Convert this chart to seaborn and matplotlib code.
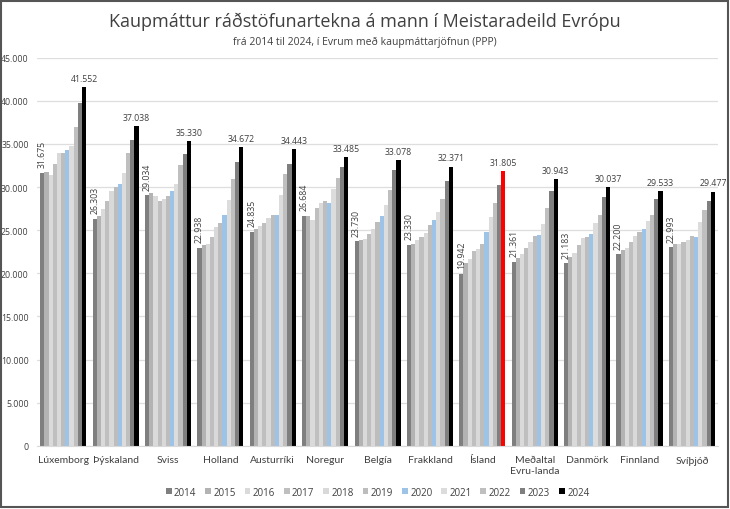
import pandas as pd
import seaborn as sns
import matplotlib.pyplot as plt
from matplotlib.patches import Rectangle
from matplotlib.ticker import FuncFormatter, MultipleLocator

countries = ["Lúxemborg", "Þýskaland", "Sviss", "Holland", "Austurríki", "Noregur",
             "Belgía", "Frakkland", "Ísland", "Meðaltal\nEvru-landa", "Danmörk",
             "Finnland", "Svíþjóð"]
years = ["2014", "2015", "2016", "2017", "2018", "2019", "2020", "2021", "2022", "2023", "2024"]

# one list per country, 2014..2024
luxemborg = [31675, 31780, 31430, 32710, 33950, 33900, 34340, 34800, 36980, 39730, 41552]
thyskaland = [26303, 26670, 27480, 28370, 29500, 30040, 30390, 31670, 33990, 35430, 37038]
sviss = [29034, 29260, 28990, 28370, 28600, 28990, 29530, 30390, 32560, 33880, 35330]
holland = [22938, 23290, 23410, 24150, 25310, 25810, 26700, 28450, 30890, 32900, 34672]
austurriki = [24835, 25080, 25500, 25810, 26360, 26700, 26700, 29070, 31510, 32640, 34443]
noregur = [26684, 26630, 26120, 27600, 28200, 28410, 28200, 29800, 31050, 32290, 33485]
belgia = [23730, 23910, 24030, 24500, 25150, 26000, 26590, 27870, 29690, 31940, 33078]
frakkland = [23330, 23450, 23800, 24260, 24690, 25620, 26120, 27050, 28570, 30660, 32371]
island = [19942, 21160, 21620, 22630, 22830, 23450, 24810, 26470, 28140, 30270, 31805]
medaltal = [21361, 21780, 22290, 22950, 23640, 24300, 24400, 25740, 27600, 29500, 30943]
danmork = [21183, 21860, 22330, 23260, 24070, 24260, 24530, 25810, 26740, 28840, 30037]
finnland = [22200, 22710, 22980, 23600, 24300, 24770, 25160, 26050, 26780, 28600, 29533]
svithjod = [22993, 23370, 23370, 23640, 23910, 24340, 24220, 25890, 27360, 28370, 29477]

series = [luxemborg, thyskaland, sviss, holland, austurriki, noregur, belgia,
          frakkland, island, medaltal, danmork, finnland, svithjod]

rows = []
for c, vals in zip(countries, series):
    for y, v in zip(years, vals):
        rows.append({"land": c, "ar": y, "gildi": v})
df = pd.DataFrame(rows)

palette = {"2014": "#7f7f7f", "2015": "#b3b3b3", "2016": "#dadada", "2017": "#bfbfbf",
           "2018": "#d9d9d9", "2019": "#bdbdbd", "2020": "#9dc3e6", "2021": "#dcdcdc",
           "2022": "#bfbfbf", "2023": "#7f7f7f", "2024": "#000000"}

sns.set_style("white")
plt.rcParams['font.family'] = ['Open Sans', 'DejaVu Sans']

fig = plt.figure(figsize=(7.3, 5.1), dpi=100)
ax = fig.add_axes([0.0507, 0.124, 0.933, 0.761])

sns.barplot(data=df, x="land", y="gildi", hue="ar", hue_order=years, order=countries,
            palette=palette, width=0.88, gap=0, saturation=1, linewidth=0,
            ax=ax, legend=True)

# Ísland 2024 in red
ax.containers[-1][countries.index("Ísland")].set_facecolor("#ff0000")

fmt = lambda v: f"{int(round(v)):,}".replace(",", ".")
ax.bar_label(ax.containers[0], labels=[fmt(v) for v in ax.containers[0].datavalues],
             rotation=90, padding=4, fontsize=6.3, color="#404040")
ax.bar_label(ax.containers[-1], labels=[fmt(v) for v in ax.containers[-1].datavalues],
             padding=3, fontsize=6.3, color="#404040")

ax.set_ylim(0, 45000)
ax.set_xlim(-0.5, len(countries) - 0.5)
ax.yaxis.set_major_locator(MultipleLocator(5000))
ax.yaxis.set_major_formatter(FuncFormatter(lambda v, p: fmt(v)))
ax.grid(axis="y", color="#dedede", linewidth=0.9)
ax.set_axisbelow(True)
for s in ["top", "right", "left"]:
    ax.spines[s].set_visible(False)
ax.spines["bottom"].set_color("#d9d9d9")
ax.tick_params(axis="y", labelsize=6.3, labelcolor="#404040", length=0, pad=6)
ax.tick_params(axis="x", labelsize=7.5, labelcolor="#404040", length=0, pad=7)
for t in ax.get_xticklabels():
    t.set_fontfamily(["Lato", "DejaVu Sans"])
ax.set_xlabel("")
ax.set_ylabel("")

handles, labs = ax.get_legend_handles_labels()
ax.legend(handles, labs, loc="center", bbox_to_anchor=(0.5, -0.12), ncol=11,
          frameon=False, fontsize=7, handlelength=0.6, handleheight=0.6,
          handletextpad=0.25, columnspacing=0.9, labelcolor="#404040")

fig.text(0.5, 0.958, "Kaupmáttur ráðstöfunartekna á mann í Meistaradeild Evrópu",
         ha="center", va="center", fontsize=13, color="#404040")
fig.text(0.5, 0.917, "frá 2014 til 2024, í Evrum með kaupmáttarjöfnun (PPP)",
         ha="center", va="center", fontsize=7.5, color="#404040")

fig.patches.append(Rectangle((0.002, 0.003), 0.995, 0.994, transform=fig.transFigure,
                             fill=False, edgecolor="#555555", linewidth=1.5))

fig.savefig("out.png", dpi=100, facecolor="white")
